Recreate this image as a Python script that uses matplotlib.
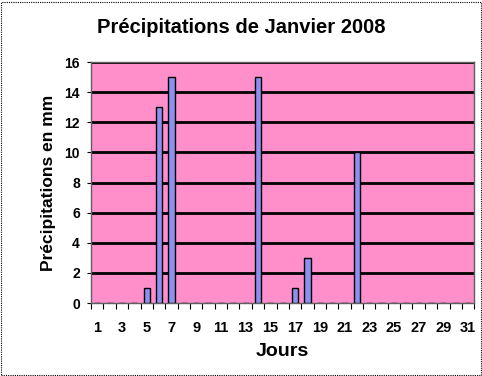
import matplotlib
matplotlib.use("Agg")
import matplotlib.pyplot as plt
from matplotlib.patches import Rectangle

plt.rcParams['font.family'] = ['Liberation Sans', 'DejaVu Sans']

# données : précipitations de janvier 2008
jours = list(range(1, 32))
pluie = [0] * 31
jours_pluie = [5, 6, 7, 14, 17, 18, 22]
mm_pluie = [1, 13, 15, 15, 1, 3, 10]
for j, v in zip(jours_pluie, mm_pluie):
    pluie[j - 1] = v
y_ticks = [0, 2, 4, 6, 8, 10, 12, 14, 16]

fig = plt.figure(figsize=(4.82, 3.76), dpi=100)
ax = fig.add_axes([0.189, 0.194, 0.795, 0.641])
ax.set_facecolor('#ff8fca')

ax.bar(jours, pluie, width=0.5, color='#8f8ff2', edgecolor='black', linewidth=1, zorder=3)

ax.set_xlim(0.5, 31.5)
ax.set_ylim(0, 16)
ax.set_yticks(y_ticks)
ax.set_yticklabels([str(t) for t in y_ticks], fontsize=10, fontweight='bold')
ax.set_xticks(jours[::2])
ax.set_xticklabels([str(j) for j in jours[::2]], fontsize=10.5, fontweight='bold')
ax.tick_params(axis='x', length=0, pad=13)
ax.set_xticks([j + 0.5 for j in range(0, 32)], minor=True)
ax.tick_params(axis='x', which='minor', length=4, width=0.8, direction='out')
ax.tick_params(axis='y', length=3, width=0.8, pad=5)

for t in y_ticks[1:]:
    ax.axhline(t, color='black', linewidth=2, zorder=2)
for s in ax.spines.values():
    s.set_color('#606060')
    s.set_linewidth(1)

fig.text(0.5, 0.928, 'Précipitations de Janvier 2008', fontsize=14.5, fontweight='bold',
         ha='center', va='center')
ax.set_xlabel('Jours', fontsize=14, fontweight='bold', labelpad=6)
ax.set_ylabel('Précipitations en mm', fontsize=12.5, fontweight='bold', labelpad=6)

fig.patches.append(Rectangle((0.002, 0.003), 0.995, 0.993, transform=fig.transFigure,
                             fill=False, edgecolor='black', linewidth=0.8, linestyle=(0, (1, 1))))

fig.savefig('out.png', dpi=100)
